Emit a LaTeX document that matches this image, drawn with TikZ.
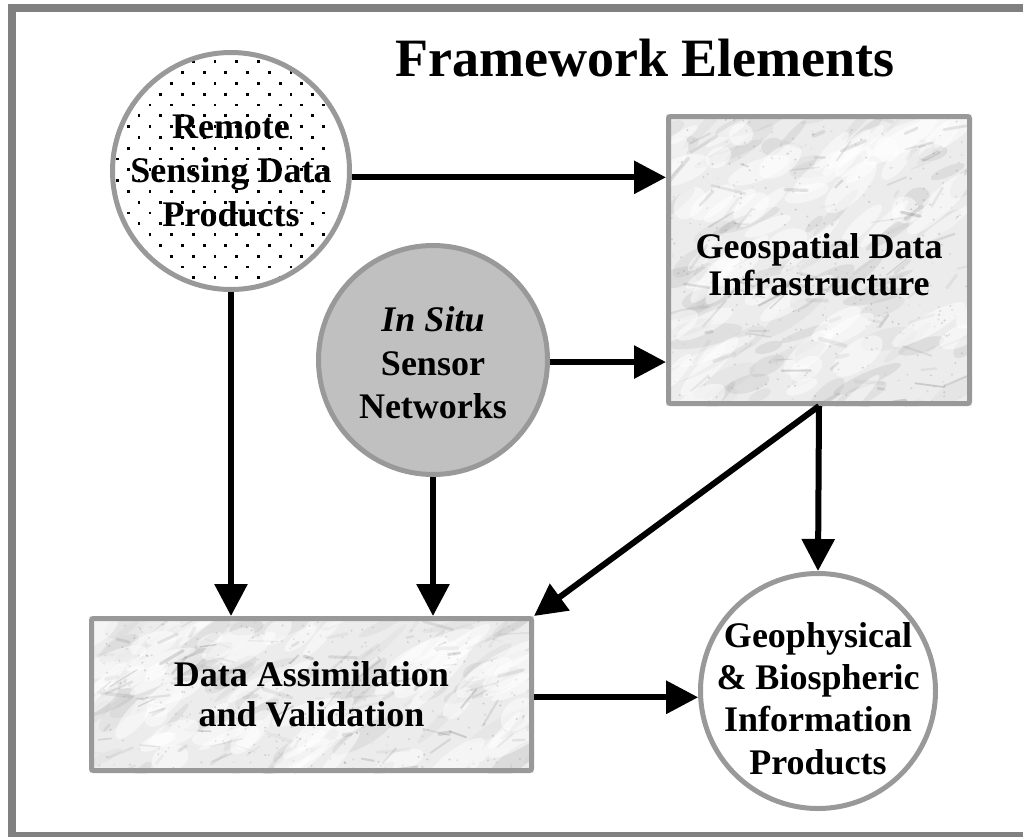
\documentclass[tikz,border=0pt]{standalone}
\usepackage{fontspec}
\setmainfont{Liberation Serif}
\usetikzlibrary{arrows.meta,calc}
\definecolor{framegray}{HTML}{808080}
\definecolor{edgegray}{HTML}{999999}
\definecolor{insitufill}{HTML}{C0C0C0}
\definecolor{marblebase}{HTML}{ECECEC}

\newcommand\marbletexture[4]{%
  \begin{scope}
    \clip (#1,#2) rectangle (#3,#4);
    \fill[marblebase] (#1,#2) rectangle (#3,#4);
    % soft gray blotches
    \foreach \k in {1,...,70}{%
      \pgfmathsetmacro\px{#1+(#3-#1)*rnd}%
      \pgfmathsetmacro\py{#2+(#4-#2)*rnd}%
      \pgfmathsetmacro\rx{10+30*rnd}%
      \pgfmathsetmacro\ry{3+8*rnd}%
      \pgfmathsetmacro\ang{10+40*rnd}%
      \pgfmathsetmacro\op{0.05+0.12*rnd}%
      \fill[black!45, opacity=\op, rotate around={\ang:(\px,\py)}]
        (\px,\py) ellipse[x radius=\rx, y radius=\ry];
    }
    % white light patches
    \foreach \k in {1,...,60}{%
      \pgfmathsetmacro\px{#1+(#3-#1)*rnd}%
      \pgfmathsetmacro\py{#2+(#4-#2)*rnd}%
      \pgfmathsetmacro\rx{12+35*rnd}%
      \pgfmathsetmacro\ry{4+10*rnd}%
      \pgfmathsetmacro\ang{15+35*rnd}%
      \fill[white, opacity=0.5, rotate around={\ang:(\px,\py)}]
        (\px,\py) ellipse[x radius=\rx, y radius=\ry];
    }
    % thin veins
    \foreach \k in {1,...,110}{%
      \pgfmathsetmacro\px{#1+(#3-#1)*rnd}%
      \pgfmathsetmacro\py{#2+(#4-#2)*rnd}%
      \pgfmathsetmacro\mlen{6+28*rnd}%
      \pgfmathsetmacro\ang{-20+80*rnd}%
      \pgfmathsetmacro\gr{35+35*rnd}%
      \pgfmathsetmacro\op{0.05+0.18*rnd}%
      \pgfmathsetmacro\lw{1+3*rnd}%
      \draw[line width=\lw pt, black!\gr, opacity=\op, line cap=round]
        (\px,\py) -- ++({\mlen*cos(\ang)},{-\mlen*sin(\ang)});
    }
    % speckles
    \foreach \k in {1,...,350}{%
      \pgfmathsetmacro\px{#1+(#3-#1)*rnd}%
      \pgfmathsetmacro\py{#2+(#4-#2)*rnd}%
      \pgfmathsetmacro\op{0.08+0.25*rnd}%
      \fill[black!50, opacity=\op] (\px,\py) circle[radius=1.1pt];
    }
  \end{scope}}

\tikzset{
  circ/.style={circle, draw=edgegray, line width=5pt, inner sep=0pt},
  boxn/.style={rectangle, draw=edgegray, line width=5pt, rounded corners=2pt, inner sep=0pt},
  lbl/.style={align=center, inner sep=0pt},
  arr/.style={line width=6pt, -{Triangle[length=32pt,width=32pt]}},
}

\begin{document}
\begin{tikzpicture}[x=1pt,y=-1pt]
\useasboundingbox (0,0) rectangle (1023,836);
\pgfmathsetseed{7}
% outer frame
\draw[framegray, line width=8pt] (12,8) rectangle (1040,836);

% textures
\marbletexture{666}{114}{972}{406}
\marbletexture{89}{616}{534}{773}

% dotted fill of remote sensing circle
\begin{scope}
  \clip (231,171) circle[radius=118];
  \foreach \j in {0,...,22}{
    \foreach \i in {-5,...,6}{
      \pgfmathsetmacro\xx{193.3+21.7*\i-10.85*mod(\j,2)}
      \pgfmathsetmacro\yy{61.7+10.8*\j}
      \fill[black] (\xx-1.4,\yy-1.4) rectangle ++(2.8,2.8);
    }
  }
\end{scope}

% shapes
\node[circ, minimum size=237pt] (rs) at (231,171) {};
\node[circ, fill=insitufill, minimum size=229pt] (is) at (433,360) {};
\node[circ, fill=white, minimum size=235pt] (gp) at (818,691) {};
\node[boxn, minimum width=301pt, minimum height=287pt] (gdi) at (819,260) {};
\node[boxn, minimum width=440pt, minimum height=152pt] (da) at (311.5,694.5) {};

% labels
\node[font=\bfseries\fontsize{54}{60}\selectfont, anchor=base] (title) at (645,76) {Framework Elements};
\node[lbl, font=\bfseries\fontsize{36}{44}\selectfont] (rst) at (231,170.5) {Remote\\Sensing Data\\Products};
\node[lbl, font=\bfseries\fontsize{36}{43.5}\selectfont] (ist) at (433,363) {\itshape In Situ\\Sensor\\Networks};
\node[lbl, font=\bfseries\fontsize{36}{37}\selectfont] (gdit) at (819,265) {Geospatial Data\\Infrastructure};
\node[lbl, font=\bfseries\fontsize{36}{40}\selectfont] (dat) at (311.5,694.5) {Data Assimilation\\and Validation};
\node[lbl, font=\bfseries\fontsize{36}{42.3}\selectfont] (gpt) at (818,698.5) {Geophysical\\\& Biospheric\\Information\\Products};

% connectors
\draw[arr] (rs.-3.3) -- (rs.-3.3 -| gdi.west);
\draw[arr] (is.-1.5) -- (is.-1.5 -| gdi.west);
\draw[arr] (rs.south) -- (rs.south |- da.north);
\draw[arr] (is.south) -- (is.south |- da.north);
\draw[arr] (gdi.south) -- (da.north east);
\draw[arr] (gdi.south) -- (gp.north);
\draw[arr] (da.east |- gp.183.8) -- (gp.183.8);
\end{tikzpicture}
\end{document}
